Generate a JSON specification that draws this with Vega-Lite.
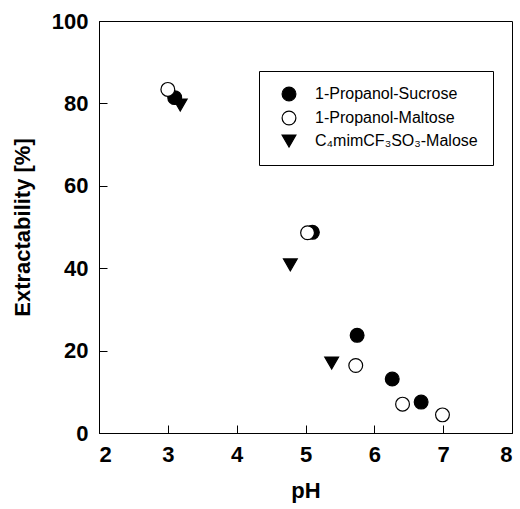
{
  "$schema": "https://vega.github.io/schema/vega-lite/v6.json",
  "width": 413,
  "height": 412,
  "autosize": {"type": "none"},
  "padding": {"left": 99, "top": 21, "right": 8, "bottom": 76},
  "background": "white",
  "config": {
    "view": {"stroke": "black", "strokeWidth": 1},
    "font": "Liberation Sans",
    "axis": {
      "domainColor": "black",
      "tickColor": "black",
      "tickSize": -8,
      "grid": false,
      "labelFont": "Liberation Sans",
      "labelFontWeight": "bold",
      "labelFontSize": 22,
      "labelColor": "black",
      "titleFont": "Liberation Sans",
      "titleFontWeight": "bold",
      "titleFontSize": 22,
      "titleColor": "black"
    }
  },
  "data": {
    "values": [
      {"series": "C₄mimCF₃SO₃-Malose", "pH": 3.18, "Extractability": 79.6},
      {"series": "C₄mimCF₃SO₃-Malose", "pH": 4.78, "Extractability": 40.8},
      {"series": "C₄mimCF₃SO₃-Malose", "pH": 5.38, "Extractability": 17.0},
      {"series": "1-Propanol-Sucrose", "pH": 3.1, "Extractability": 81.4},
      {"series": "1-Propanol-Sucrose", "pH": 5.1, "Extractability": 48.7},
      {"series": "1-Propanol-Sucrose", "pH": 5.75, "Extractability": 23.7},
      {"series": "1-Propanol-Sucrose", "pH": 6.26, "Extractability": 13.1},
      {"series": "1-Propanol-Sucrose", "pH": 6.68, "Extractability": 7.5},
      {"series": "1-Propanol-Maltose", "pH": 3.0, "Extractability": 83.4},
      {"series": "1-Propanol-Maltose", "pH": 5.03, "Extractability": 48.6},
      {"series": "1-Propanol-Maltose", "pH": 5.73, "Extractability": 16.4},
      {"series": "1-Propanol-Maltose", "pH": 6.41, "Extractability": 7.0},
      {"series": "1-Propanol-Maltose", "pH": 6.99, "Extractability": 4.4}
    ]
  },
  "mark": {"type": "point", "filled": true, "size": 190, "strokeWidth": 1.2, "opacity": 1},
  "encoding": {
    "x": {
      "field": "pH", "type": "quantitative",
      "scale": {"domain": [2, 8], "nice": false, "zero": false},
      "axis": {"title": "pH", "values": [2, 3, 4, 5, 6, 7, 8], "labelPadding": 19, "titlePadding": 15}
    },
    "y": {
      "field": "Extractability", "type": "quantitative",
      "scale": {"domain": [0, 100], "nice": false},
      "axis": {"title": "Extractability [%]", "values": [0, 20, 40, 60, 80, 100], "labelPadding": 19, "titlePadding": 17}
    },
    "shape": {
      "field": "series", "type": "nominal",
      "scale": {"domain": ["1-Propanol-Sucrose", "1-Propanol-Maltose", "C₄mimCF₃SO₃-Malose"], "range": ["circle", "circle", "triangle-down"]},
      "legend": {"orient": "none", "legendX": 160, "legendY": 50, "title": null, "strokeColor": "black", "padding": 15, "symbolSize": 190, "labelFontSize": 16, "labelFont": "Liberation Sans", "labelColor": "black", "labelLimit": 400, "rowPadding": 4, "symbolOffset": 7, "labelOffset": 18, "symbolStrokeWidth": 1.2, "fillColor": "white"}
    },
    "fill": {
      "field": "series", "type": "nominal",
      "scale": {"domain": ["1-Propanol-Sucrose", "1-Propanol-Maltose", "C₄mimCF₃SO₃-Malose"], "range": ["black", "white", "black"]},
      "legend": {"orient": "none", "legendX": 160, "legendY": 50, "title": null, "strokeColor": "black", "padding": 15, "symbolSize": 190, "labelFontSize": 16, "labelFont": "Liberation Sans", "labelColor": "black", "labelLimit": 400, "rowPadding": 4, "symbolOffset": 7, "labelOffset": 18, "symbolStrokeWidth": 1.2, "fillColor": "white"}
    },
    "stroke": {
      "field": "series", "type": "nominal",
      "scale": {"domain": ["1-Propanol-Sucrose", "1-Propanol-Maltose", "C₄mimCF₃SO₃-Malose"], "range": ["black", "black", "black"]},
      "legend": {"orient": "none", "legendX": 160, "legendY": 50, "title": null, "strokeColor": "black", "padding": 15, "symbolSize": 190, "labelFontSize": 16, "labelFont": "Liberation Sans", "labelColor": "black", "labelLimit": 400, "rowPadding": 4, "symbolOffset": 7, "labelOffset": 18, "symbolStrokeWidth": 1.2, "fillColor": "white"}
    }
  }
}
